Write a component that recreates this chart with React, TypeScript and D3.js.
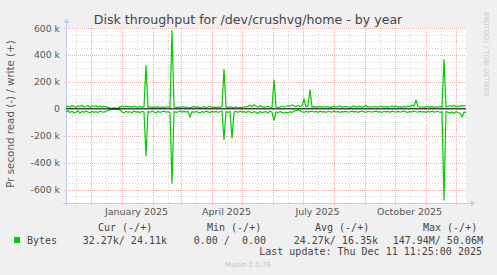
import React from "react";
import * as d3 from "d3";

// ---- data (values in k, one point every 2 days) ----
const endDate = new Date(2025, 11, 11, 11, 25, 0);
const rangeDays = 400;
const stepDays = 2;

const writeK: number[] = [
  14, 20, 12, 24, 18, 9, 22, 16, 26, 13, 19, 25, 11, 21, 17, 23, 15, 20, 12, 18,
  16, 10, 5, 4, 6, 3, 5, 14, 18, 12, 20, 15, 17, 11, 19, 14, 13, 18, 10, 16,
  322, 12, 15, 9, 14, 11, 16, 8, 13, 10, 12, 15, 9, 585, 14, 8, 12, 10, 15, 11,
  13, 9, 6, 12, 16, 10, 14, 8, 11, 15, 9, 13, 17, 10, 12, 8, 14, 11, 16, 297,
  12, 9, 14, 10, 8, 13, 6, 11, 9, 15, 12, 18, 26, 14, 30, 20, 12, 24, 16, 10,
  14, 18, 11, 9, 217, 15, 8, 13, 20, 12, 17, 24, 19, 28, 22, 16, 25, 18, 21, 72,
  14, 20, 142, 12, 16, 10, 14, 18, 11, 15, 13, 17, 9, 14, 19, 12, 16, 22, 11, 15,
  18, 13, 10, 16, 21, 12, 14, 19, 11, 17, 24, 13, 15, 10, 18, 14, 12, 20, 16, 13,
  17, 11, 15, 22, 14, 19, 12, 16, 10, 18, 13, 21, 15, 28, 20, 62, 17, 12, 15, 10,
  14, 18, 12, 16, 11, 15, 13, 17, 10, 367, 14, 19, 24, 16, 26, 13, 22, 18, 25, 20,
  24,
];

const readK: number[] = [
  22, 15, 28, 18, 30, 25, 14, 32, 20, 27, 16, 24, 30, 19, 26, 21, 28, 17, 23, 25,
  18, 12, 6, 4, 5, 3, 4, 8, 24, 30, 19, 26, 22, 29, 17, 25, 21, 28, 19, 24,
  350, 20, 26, 17, 24, 30, 19, 27, 22, 18, 25, 21, 28, 557, 19, 26, 23, 17, 25, 20,
  24, 18, 60, 22, 27, 19, 25, 30, 21, 26, 18, 23, 28, 20, 25, 19, 27, 22, 18, 232,
  21, 26, 19, 220, 24, 20, 27, 18, 25, 22, 28, 19, 24, 30, 21, 26, 35, 20, 28, 24,
  22, 30, 18, 26, 88, 24, 29, 21, 27, 33, 25, 30, 22, 28, 18, 12, 8, 14, 22, 26,
  19, 25, 21, 17, 24, 20, 26, 18, 23, 21, 27, 19, 22, 25, 18, 24, 20, 26, 21, 23,
  19, 25, 22, 18, 24, 20, 27, 21, 17, 23, 26, 19, 22, 25, 20, 18, 24, 21, 27, 19,
  23, 20, 26, 18, 22, 25, 19, 24, 21, 17, 23, 26, 20, 24, 18, 22, 25, 19, 23, 21,
  26, 20, 24, 18, 25, 22, 19, 27, 23, 682, 21, 26, 30, 24, 35, 22, 28, 33, 58, 25,
  27,
];

const yTickValues = [-600000, -400000, -200000, 0, 200000, 400000, 600000];
const yTickLabels = ["-600 k", "-400 k", "-200 k", "0", "200 k", "400 k", "600 k"];
const xLabelMonths = [new Date(2025, 0, 16), new Date(2025, 3, 16), new Date(2025, 6, 16), new Date(2025, 9, 16)];
const xLabels = ["January 2025", "April 2025", "July 2025", "October 2025"];

const legendHeaders = ["Cur (-/+)", "Min (-/+)", "Avg (-/+)", "Max (-/+)"];
const legendValues = ["32.27k/ 24.11k", "0.00 /  0.00", "24.27k/ 16.35k", "147.94M/ 50.06M"];

const title = "Disk throughput for /dev/crushvg/home - by year";
const yTitle = "Pr second read (-) / write (+)";

export default function App() {
  const W = 497, H = 275;
  const left = 66, right = 466, top = 28, bottom = 203;
  const startDate = d3.timeDay.offset(endDate, -rangeDays);
  const x = d3.scaleTime().domain([startDate, endDate]).range([left, right]);
  const y = d3.scaleLinear().domain([-700000, 600000]).range([bottom, top]);

  const dates = writeK.map((_, i) => d3.timeDay.offset(startDate, i * stepDays));
  const line = d3
    .line<number>()
    .x((_, i) => x(dates[i]))
    .y((v) => y(v));
  const wPath = line(writeK.map((v) => v * 1000)) || "";
  const rPath = line(readK.map((v) => -v * 1000)) || "";

  const months = d3.timeMonth.range(d3.timeMonth.ceil(startDate), endDate);
  const mids = d3.timeMonth
    .range(d3.timeMonth.floor(startDate), endDate)
    .map((m) => new Date(m.getFullYear(), m.getMonth(), 16))
    .filter((d) => d > startDate && d < endDate);
  const minorY = d3.range(-700000, 600001, 50000).filter((v) => v % 200000 !== 0);

  const sans = "'DejaVu Sans', sans-serif";
  const mono = "'DejaVu Sans Mono', monospace";
  const axisCol = "#c4c8f2";
  const majorCol = "#f0b0b0";
  const minorCol = "#d4d4d4";
  const headerX = [98, 207, 315, 423];
  const valueRight = [167, 266, 378, 483];

  return (
    <div style={{ position: "fixed", left: 0, top: 0 }}>
      <svg width={W} height={H} style={{ display: "block" }}>
        <rect x={0} y={0} width={W} height={H} fill="#f0f0f0" />
        <rect x={left} y={top} width={right - left} height={bottom - top} fill="#ffffff" />
        {/* minor grid */}
        {minorY.map((v) => (
          <line key={"my" + v} x1={left} x2={right} y1={Math.round(y(v)) + 0.5} y2={Math.round(y(v)) + 0.5}
            stroke={minorCol} strokeDasharray="1,2" />
        ))}
        {mids.map((d) => (
          <line key={"mx" + d.getTime()} x1={Math.round(x(d)) + 0.5} x2={Math.round(x(d)) + 0.5} y1={top} y2={bottom}
            stroke={minorCol} strokeDasharray="1,2" />
        ))}
        {/* major grid */}
        {yTickValues.map((v) => (
          <line key={"Y" + v} x1={left - 2} x2={right} y1={Math.round(y(v)) + 0.5} y2={Math.round(y(v)) + 0.5}
            stroke={majorCol} strokeDasharray="1,1" />
        ))}
        {months.map((d) => (
          <line key={"X" + d.getTime()} x1={Math.round(x(d)) + 0.5} x2={Math.round(x(d)) + 0.5} y1={top} y2={bottom + 2}
            stroke={majorCol} strokeDasharray="1,1" />
        ))}
        {/* axes */}
        <line x1={left - 3} x2={right + 5} y1={bottom + 0.5} y2={bottom + 0.5} stroke={axisCol} />
        <path d={`M${right + 5},${bottom - 2.5} L${right + 9},${bottom + 0.5} L${right + 5},${bottom + 3.5} Z`} fill={axisCol} />
        <line x1={left + 0.5} x2={left + 0.5} y1={top - 5} y2={bottom + 3} stroke={axisCol} />
        <path d={`M${left - 2.5},${top - 5} L${left + 0.5},${top - 9} L${left + 3.5},${top - 5} Z`} fill={axisCol} />
        {/* data */}
        <path d={wPath} fill="none" stroke="#00cc00" strokeWidth={1.2} />
        <path d={rPath} fill="none" stroke="#00cc00" strokeWidth={1.2} />
        <line x1={left} x2={right} y1={y(0)} y2={y(0)} stroke="#000" strokeWidth={1} />
        {/* y labels */}
        {yTickValues.map((v, i) => (
          <text key={"yl" + v} x={60} y={y(v) + 3.5} textAnchor="end" fontFamily={sans} fontSize={9.3} fill="#555">
            {yTickLabels[i]}
          </text>
        ))}
        {/* x labels */}
        {xLabelMonths.map((d, i) => (
          <text key={"xl" + i} x={x(d)} y={215} textAnchor="middle" fontFamily={sans} fontSize={9.5} fill="#555">
            {xLabels[i]}
          </text>
        ))}
        {/* titles */}
        <text x={248} y={24} textAnchor="middle" fontFamily={sans} fontSize={12.6} fill="#444">{title}</text>
        <text transform={`translate(14,114) rotate(-90)`} textAnchor="middle" fontFamily={sans} fontSize={10.3} fill="#555">
          {yTitle}
        </text>
        <text transform={`translate(484,54) rotate(90)`} textAnchor="middle" fontFamily={sans} fontSize={6.6} fill="#c8c8c8">
          RRDTOOL / TOBI OETIKER
        </text>
        {/* legend */}
        {legendHeaders.map((h, i) => (
          <text key={"lh" + i} x={headerX[i]} y={231} fontFamily={mono} fontSize={10} fill="#444" style={{ whiteSpace: "pre" }}>
            {h}
          </text>
        ))}
        <rect x={14} y={237} width={6} height={6} fill="#00cc00" />
        <text x={27} y={243.5} fontFamily={mono} fontSize={10} fill="#444">Bytes</text>
        {legendValues.map((v, i) => (
          <text key={"lv" + i} x={valueRight[i]} y={243.5} textAnchor="end" fontFamily={mono} fontSize={10} fill="#444"
            style={{ whiteSpace: "pre" }}>
            {v}
          </text>
        ))}
        <text x={482} y={255} textAnchor="end" fontFamily={mono} fontSize={10} fill="#444" style={{ whiteSpace: "pre" }}>
          Last update: Thu Dec 11 11:25:00 2025
        </text>
        <text x={248} y={267} textAnchor="middle" fontFamily={sans} fontSize={7} fill="#c4c4c4">Munin 2.0.76</text>
      </svg>
    </div>
  );
}
